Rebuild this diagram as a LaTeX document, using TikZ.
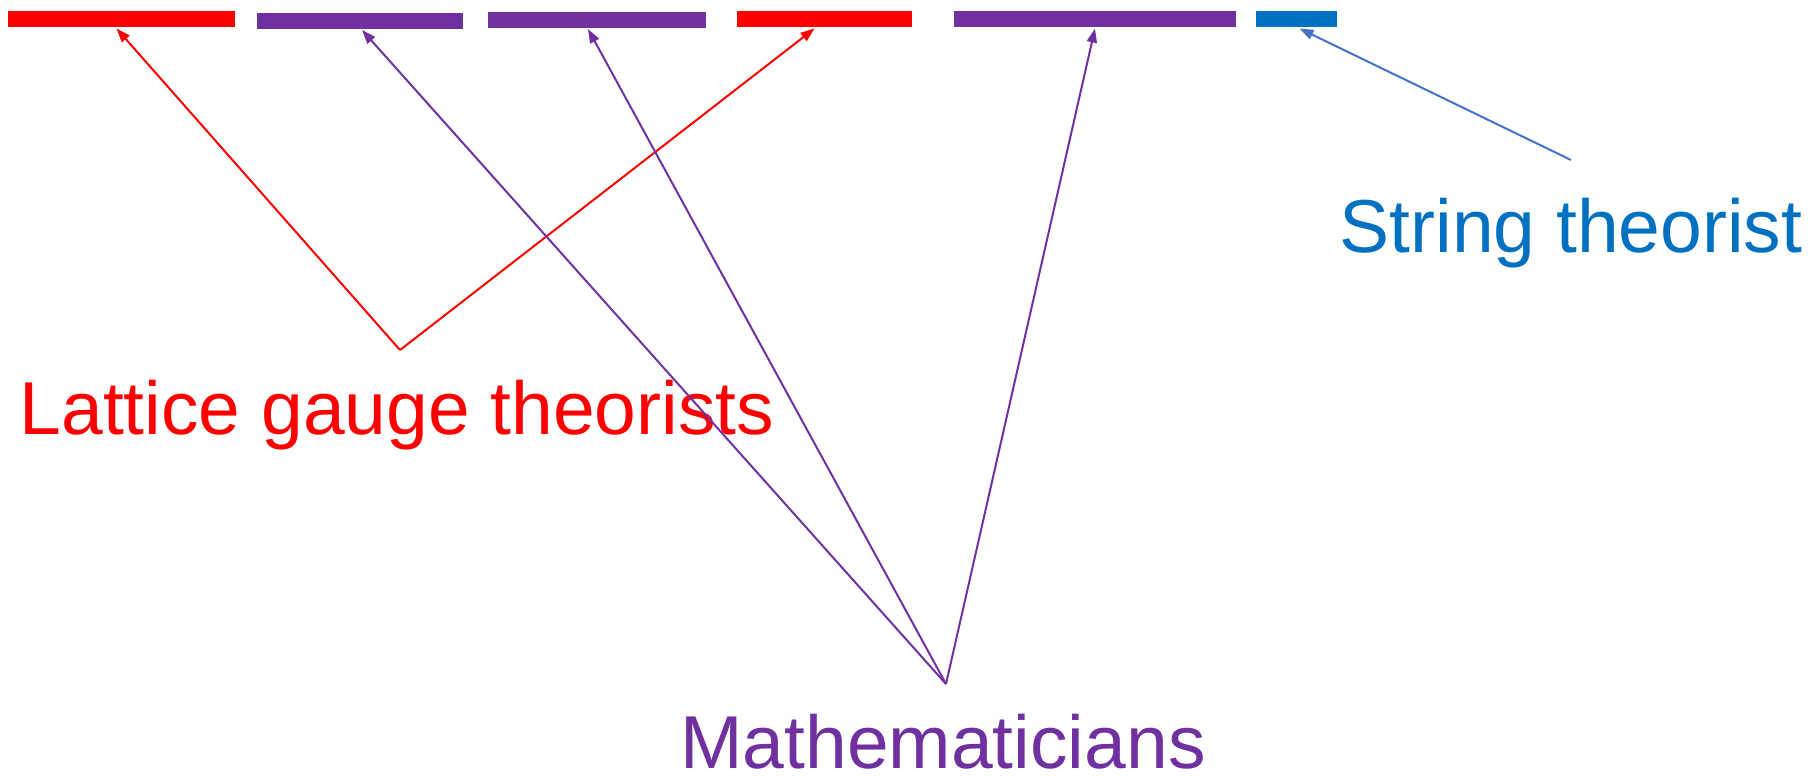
\documentclass[tikz,border=0pt]{standalone}
\usepackage{fontspec}
\setmainfont{Liberation Sans}
\usepackage{tikz}
\usetikzlibrary{arrows.meta}
\definecolor{latred}{HTML}{FF0000}
\definecolor{mathpurple}{HTML}{7030A0}
\definecolor{strblue}{HTML}{0070C0}
\definecolor{arrblue}{HTML}{4472C4}

\begin{document}
\begin{tikzpicture}[x=1pt, y=-1pt, line width=2pt,
  bar/.style={fill=#1, inner sep=0pt, minimum height=16pt},
  group/.style={text=#1, inner sep=0pt, anchor=base, font=\fontsize{75}{86}\selectfont},
  pointer/.style={draw=#1, -{Triangle[length=14pt, width=10pt]}}]
  \useasboundingbox (0,0) rectangle (1815,776);
  % bars along the top edge
  \node[bar=latred, minimum width=227pt] (bar1) at (121.5,19.5) {};
  \node[bar=mathpurple, minimum width=206pt] (bar2) at (360,21) {};
  \node[bar=mathpurple, minimum width=218pt] (bar3) at (597,20) {};
  \node[bar=latred, minimum width=175pt] (bar4) at (824.5,19.5) {};
  \node[bar=mathpurple, minimum width=282pt] (bar5) at (1095,19.5) {};
  \node[bar=strblue, minimum width=81pt] (bar6) at (1296.5,19.5) {};
  % labels
  \node[group=latred] (lattice) at (397,434) {Lattice gauge theorists};
  \node[group=mathpurple] (maths) at (943,768) {Mathematicians};
  \node[group=strblue] (string) at (1571,252) {String theorist};
  \coordinate (latapex) at (400,350);
  \coordinate (mathapex) at (946,684);
  \coordinate (strstart) at (1571,160);
  % arrows
  \draw[pointer=latred] (latapex) -- ([xshift=-5pt]bar1.south);
  \draw[pointer=latred] (latapex) -- ([xshift=-10pt]bar4.south);
  \foreach \b/\s in {bar2/2pt, bar3/-9pt, bar5/0pt}{
    \draw[pointer=mathpurple] (mathapex) -- ([xshift=\s]\b.south);
  }
  \draw[pointer=arrblue] (strstart) -- ([xshift=3pt]bar6.south);
\end{tikzpicture}
\end{document}
